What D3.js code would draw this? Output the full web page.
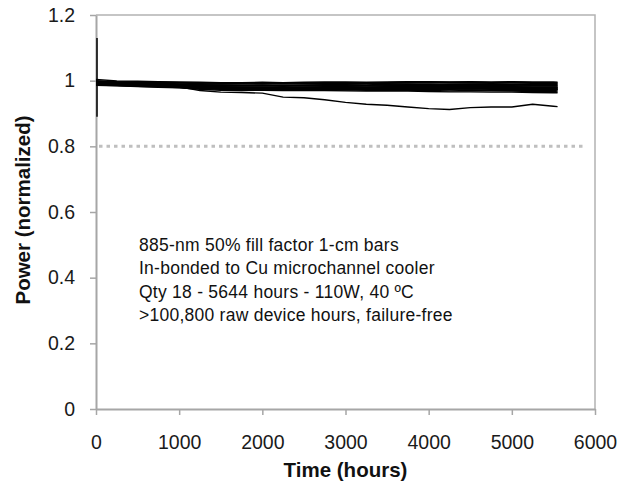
<!DOCTYPE html>
<meta charset="utf-8">
<style>
  body { margin: 0; background: #fff; }
  text { font-family: Arial, "Liberation Sans", sans-serif; }
</style>

<!-- Load d3.js -->
<script src="https://d3js.org/d3.v7.min.js"></script>

<div id="my_dataviz"></div>

<script>
// Sample times (hours) shared by every bar
var hours = [0, 250, 500, 750, 1000, 1250, 1500, 1750, 2000, 2250, 2500, 2750,
             3000, 3250, 3500, 3750, 4000, 4250, 4500, 4750, 5000, 5250, 5500, 5550];

// Normalized power for each of the 18 bars
var bar01 = [1.004, 0.999, 0.998, 0.997, 0.996, 0.995, 0.994, 0.994, 0.995, 0.994, 0.995, 0.996, 0.996, 0.995, 0.996, 0.997, 0.997, 0.996, 0.997, 0.996, 0.997, 0.996, 0.996, 0.995];
var bar02 = [0.998, 0.996, 0.995, 0.994, 0.993, 0.991, 0.990, 0.990, 0.991, 0.990, 0.991, 0.992, 0.992, 0.991, 0.992, 0.993, 0.994, 0.993, 0.993, 0.992, 0.993, 0.992, 0.992, 0.991];
var bar03 = [0.996, 0.994, 0.993, 0.992, 0.990, 0.988, 0.987, 0.986, 0.987, 0.986, 0.987, 0.988, 0.988, 0.987, 0.989, 0.990, 0.990, 0.989, 0.990, 0.989, 0.989, 0.988, 0.988, 0.988];
var bar04 = [0.995, 0.992, 0.991, 0.990, 0.988, 0.986, 0.985, 0.984, 0.984, 0.983, 0.984, 0.985, 0.985, 0.984, 0.985, 0.986, 0.986, 0.985, 0.986, 0.985, 0.985, 0.984, 0.984, 0.984];
var bar05 = [0.993, 0.991, 0.990, 0.988, 0.987, 0.984, 0.982, 0.981, 0.981, 0.980, 0.981, 0.982, 0.982, 0.981, 0.982, 0.983, 0.983, 0.982, 0.983, 0.982, 0.982, 0.981, 0.981, 0.981];
var bar06 = [0.992, 0.990, 0.988, 0.987, 0.985, 0.982, 0.980, 0.979, 0.979, 0.978, 0.979, 0.979, 0.980, 0.979, 0.980, 0.981, 0.981, 0.980, 0.981, 0.980, 0.980, 0.979, 0.979, 0.979];
var bar07 = [0.991, 0.989, 0.987, 0.986, 0.984, 0.981, 0.979, 0.977, 0.977, 0.976, 0.977, 0.977, 0.978, 0.977, 0.978, 0.979, 0.979, 0.978, 0.979, 0.978, 0.978, 0.977, 0.977, 0.976];
var bar08 = [0.990, 0.988, 0.986, 0.985, 0.983, 0.980, 0.977, 0.975, 0.975, 0.974, 0.975, 0.975, 0.976, 0.975, 0.976, 0.977, 0.977, 0.976, 0.977, 0.976, 0.976, 0.975, 0.975, 0.974];
var bar09 = [0.989, 0.987, 0.985, 0.984, 0.982, 0.978, 0.976, 0.974, 0.974, 0.973, 0.974, 0.974, 0.975, 0.974, 0.975, 0.975, 0.975, 0.974, 0.975, 0.974, 0.974, 0.973, 0.973, 0.972];
var bar10 = [0.988, 0.986, 0.984, 0.983, 0.980, 0.977, 0.975, 0.973, 0.973, 0.972, 0.973, 0.973, 0.974, 0.973, 0.973, 0.974, 0.973, 0.972, 0.972, 0.971, 0.971, 0.970, 0.970, 0.969];
var bar11 = [0.987, 0.985, 0.983, 0.981, 0.979, 0.976, 0.974, 0.973, 0.972, 0.971, 0.971, 0.971, 0.972, 0.971, 0.971, 0.971, 0.970, 0.969, 0.970, 0.969, 0.968, 0.967, 0.967, 0.966];
var bar12 = [0.986, 0.984, 0.982, 0.980, 0.978, 0.974, 0.971, 0.970, 0.971, 0.970, 0.970, 0.970, 0.969, 0.968, 0.968, 0.968, 0.967, 0.966, 0.966, 0.965, 0.965, 0.964, 0.963, 0.963];
var bar13 = [0.997, 0.993, 0.992, 0.991, 0.989, 0.987, 0.986, 0.985, 0.986, 0.985, 0.986, 0.987, 0.987, 0.986, 0.987, 0.988, 0.988, 0.987, 0.988, 0.987, 0.987, 0.986, 0.986, 0.986];
var bar14 = [0.994, 0.991, 0.989, 0.989, 0.986, 0.983, 0.981, 0.980, 0.980, 0.979, 0.980, 0.980, 0.981, 0.980, 0.981, 0.982, 0.982, 0.981, 0.982, 0.981, 0.981, 0.980, 0.980, 0.980];
var bar15 = [0.990, 0.988, 0.987, 0.985, 0.983, 0.980, 0.978, 0.976, 0.976, 0.975, 0.976, 0.976, 0.977, 0.976, 0.977, 0.978, 0.978, 0.977, 0.978, 0.977, 0.977, 0.976, 0.976, 0.975];
var bar16 = [0.988, 0.986, 0.985, 0.983, 0.981, 0.978, 0.976, 0.975, 0.975, 0.974, 0.975, 0.975, 0.976, 0.975, 0.975, 0.976, 0.976, 0.975, 0.976, 0.975, 0.975, 0.974, 0.974, 0.973];
var bar17 = [1.000, 0.997, 0.996, 0.995, 0.994, 0.993, 0.992, 0.992, 0.993, 0.992, 0.993, 0.994, 0.994, 0.993, 0.994, 0.995, 0.996, 0.995, 0.995, 0.994, 0.995, 0.994, 0.994, 0.993];
var bar18 = [0.990, 0.988, 0.987, 0.985, 0.981, 0.970, 0.965, 0.964, 0.962, 0.950, 0.948, 0.942, 0.934, 0.928, 0.925, 0.920, 0.915, 0.912, 0.918, 0.920, 0.920, 0.928, 0.922, 0.921];

// Start-up transient seen at t = 0
var startSpike = [0.89, 1.13];

// End-of-life threshold
var threshold = 0.8;
var thresholdSpan = [0, 5850];

var xTicks = [0, 1000, 2000, 3000, 4000, 5000, 6000];
var yTicks = [0, 0.2, 0.4, 0.6, 0.8, 1, 1.2];

var notes = [
  "885-nm 50% fill factor 1-cm bars",
  "In-bonded to Cu microchannel cooler",
  "Qty 18 - 5644 hours - 110W, 40 \u00baC",
  ">100,800 raw device hours, failure-free"
];

var bars = [bar01, bar02, bar03, bar04, bar05, bar06, bar07, bar08, bar09,
            bar10, bar11, bar12, bar13, bar14, bar15, bar16, bar17, bar18];

// Dimensions
var W = 621, H = 495;
var margin = {top: 15, right: 26, bottom: 86, left: 96},
    width = W - margin.left - margin.right,
    height = H - margin.top - margin.bottom;

var svg = d3.select("#my_dataviz")
  .append("svg")
    .attr("width", W)
    .attr("height", H);

var g = svg.append("g")
    .attr("transform", `translate(${margin.left},${margin.top})`);

var x = d3.scaleLinear().domain([0, 6000]).range([0, width]);
var y = d3.scaleLinear().domain([0, 1.2]).range([height, 0]);

// Plot area border (top and right)
g.append("path")
    .attr("d", `M0,0H${width}V${height}`)
    .attr("fill", "none")
    .attr("stroke", "#b3b3b3")
    .attr("stroke-width", 1.5);

// Threshold dotted line
g.append("line")
    .attr("x1", x(thresholdSpan[0]) + 3)
    .attr("x2", x(thresholdSpan[1]))
    .attr("y1", y(threshold))
    .attr("y2", y(threshold))
    .attr("stroke", "#bfbfbf")
    .attr("stroke-width", 3)
    .attr("stroke-dasharray", "3.5,4");

// Axes
var fmt = d3.format("~g");

var yAxis = g.append("g")
    .call(d3.axisLeft(y).tickValues(yTicks).tickFormat(fmt)
      .tickSize(6).tickSizeOuter(0).tickPadding(15));

var xAxis = g.append("g")
    .attr("transform", `translate(0,${height})`)
    .call(d3.axisBottom(x).tickValues(xTicks).tickFormat(fmt)
      .tickSize(6).tickSizeOuter(0).tickPadding(20));

[xAxis, yAxis].forEach(function(a) {
  a.select(".domain").attr("stroke", "#a6a6a6").attr("stroke-width", 2);
  a.selectAll(".tick line").attr("stroke", "#a6a6a6").attr("stroke-width", 1.5);
  a.selectAll(".tick text")
    .attr("fill", "#1a1a1a")
    .style("font-size", "19.5px")
    .style("font-family", "Arial, 'Liberation Sans', sans-serif");
});

// Data lines
var line = d3.line()
    .x((d, i) => x(hours[i]))
    .y(d => y(d));

g.append("g")
  .selectAll("path")
  .data(bars)
  .join("path")
    .attr("d", line)
    .attr("fill", "none")
    .attr("stroke", "#000")
    .attr("stroke-width", 1.4)
    .attr("stroke-linejoin", "round");

// Start-up spike
g.append("line")
    .attr("x1", x(0) + 1)
    .attr("x2", x(0) + 1)
    .attr("y1", y(startSpike[0]))
    .attr("y2", y(startSpike[1]))
    .attr("stroke", "#000")
    .attr("stroke-width", 1.5);

// Annotation
g.append("g")
  .selectAll("text")
  .data(notes)
  .join("text")
    .attr("x", 43)
    .attr("y", (d, i) => 236 + i * 23.3)
    .attr("fill", "#111")
    .style("font-size", "17.5px")
    .style("letter-spacing", "0.25px")
    .text(d => d);

// Axis titles
svg.append("text")
    .attr("x", margin.left + width / 2)
    .attr("y", 477)
    .attr("text-anchor", "middle")
    .style("font-size", "20.5px")
    .style("font-weight", "bold")
    .attr("fill", "#111")
    .text("Time (hours)");

svg.append("text")
    .attr("transform", "translate(30,210) rotate(-90)")
    .attr("text-anchor", "middle")
    .style("font-size", "20.5px")
    .style("font-weight", "bold")
    .attr("fill", "#111")
    .text("Power (normalized)");
</script>
